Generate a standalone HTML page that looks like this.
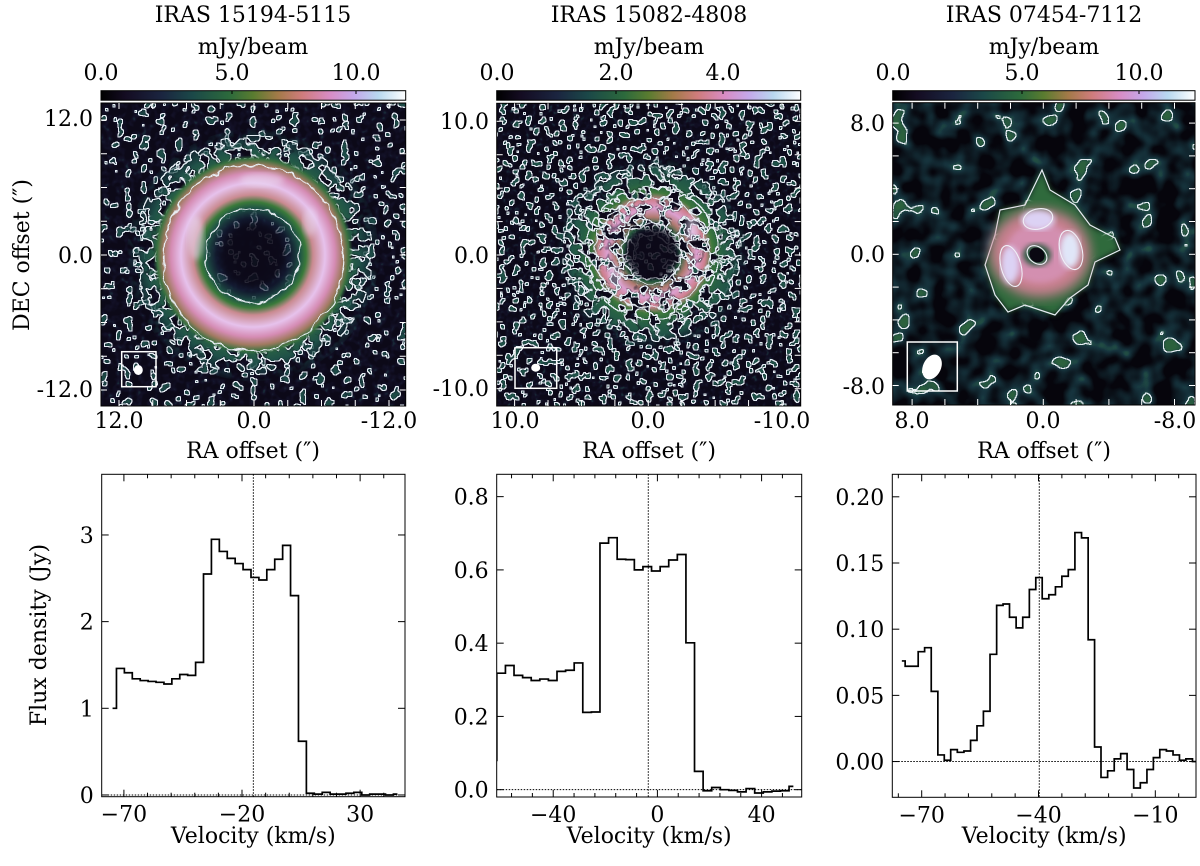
<!DOCTYPE html>
<html><head><meta charset="utf-8">
<style>
html,body{margin:0;padding:0;background:#fff;}
svg text{font-family:"DejaVu Serif","Liberation Serif",serif;fill:#000;}
filter{color-interpolation-filters:sRGB;}
</style></head>
<body>
<svg id="fig" width="1200" height="861" viewBox="0 0 1200 861" xmlns="http://www.w3.org/2000/svg">
<defs>
  <linearGradient id="cmap" x1="0" x2="1" y1="0" y2="0">
    <stop offset="0" stop-color="#000000"/><stop offset="0.08" stop-color="#140c22"/>
    <stop offset="0.2" stop-color="#1b2540"/><stop offset="0.3" stop-color="#1b4848"/>
    <stop offset="0.42" stop-color="#2c6a3c"/><stop offset="0.5" stop-color="#5a7c30"/>
    <stop offset="0.58" stop-color="#a37a48"/><stop offset="0.66" stop-color="#cf7c7c"/>
    <stop offset="0.75" stop-color="#d88cc4"/><stop offset="0.83" stop-color="#c4a8ea"/>
    <stop offset="0.91" stop-color="#b8d8f0"/><stop offset="1" stop-color="#ffffff"/>
  </linearGradient>
  <filter id="nzA" x="0" y="0" width="100%" height="100%" color-interpolation-filters="sRGB">
    <feTurbulence type="fractalNoise" baseFrequency="0.12" numOctaves="2" seed="4" result="t"/>
    <feColorMatrix in="t" type="matrix" values="0 0 0 0 0.11 0 0 0 0 0.29 0 0 0 0 0.27 6 0 0 0 -3.5" result="blob"/>
    <feComponentTransfer in="blob" result="mask"><feFuncA type="discrete" tableValues="0 1"/></feComponentTransfer>
    <feMorphology in="mask" operator="dilate" radius="1" result="dil"/>
    <feComposite in="dil" in2="mask" operator="out" result="edge"/>
    <feFlood flood-color="#e4ecf2"/><feComposite in2="edge" operator="in" result="wedge"/>
    <feColorMatrix in="t" type="matrix" values="0 0 0 0 0.12 0 0 0 0 0.12 0 0 0 0 0.26 2 0 0 0 -0.8" result="faint"/>
    <feMerge><feMergeNode in="faint"/><feMergeNode in="blob"/><feMergeNode in="wedge"/></feMerge>
  </filter>
  <filter id="nzB" x="0" y="0" width="100%" height="100%" color-interpolation-filters="sRGB">
    <feTurbulence type="fractalNoise" baseFrequency="0.15" numOctaves="2" seed="9" result="t"/>
    <feColorMatrix in="t" type="matrix" values="0 0 0 0 0.12 0 0 0 0 0.32 0 0 0 0 0.28 6 0 0 0 -3.35" result="blob"/>
    <feComponentTransfer in="blob" result="mask"><feFuncA type="discrete" tableValues="0 1"/></feComponentTransfer>
    <feMorphology in="mask" operator="dilate" radius="1" result="dil"/>
    <feComposite in="dil" in2="mask" operator="out" result="edge"/>
    <feFlood flood-color="#e4ecf2"/><feComposite in2="edge" operator="in" result="wedge"/>
    <feColorMatrix in="t" type="matrix" values="0 0 0 0 0.12 0 0 0 0 0.12 0 0 0 0 0.26 2 0 0 0 -0.8" result="faint"/>
    <feMerge><feMergeNode in="faint"/><feMergeNode in="blob"/><feMergeNode in="wedge"/></feMerge>
  </filter>
  <filter id="nzC" x="0" y="0" width="100%" height="100%" color-interpolation-filters="sRGB">
    <feTurbulence type="fractalNoise" baseFrequency="0.045" numOctaves="2" seed="5" result="t"/>
    <feColorMatrix in="t" type="matrix" values="0 0 0 0 0.17 0 0 0 0 0.38 0 0 0 0 0.24 7 0 0 0 -4.55" result="blob"/>
    <feComponentTransfer in="blob" result="mask"><feFuncA type="discrete" tableValues="0 1"/></feComponentTransfer>
    <feMorphology in="mask" operator="dilate" radius="1" result="dil"/>
    <feComposite in="dil" in2="mask" operator="out" result="edge"/>
    <feFlood flood-color="#e4ecf2"/><feComposite in2="edge" operator="in" result="wedge"/>
    <feColorMatrix in="t" type="matrix" values="0 0 0 0 0.10 0 0 0 0 0.24 0 0 0 0 0.28 3 0 0 0 -1.1" result="faint"/>
    <feMerge><feMergeNode in="faint"/><feMergeNode in="blob"/><feMergeNode in="wedge"/></feMerge>
  </filter>
  <filter id="halo" x="-10%" y="-10%" width="120%" height="120%" color-interpolation-filters="sRGB">
    <feTurbulence type="fractalNoise" baseFrequency="0.1" numOctaves="2" seed="7" result="t"/>
    <feColorMatrix in="t" type="matrix" values="0 0 0 0 0 0 0 0 0 0 0 0 0 0 0 6 0 0 0 -2.5" result="na"/>
    <feComposite in="SourceGraphic" in2="na" operator="in" result="hg"/>
    <feComponentTransfer in="hg" result="mask"><feFuncA type="discrete" tableValues="0 1"/></feComponentTransfer>
    <feMorphology in="mask" operator="dilate" radius="1" result="dil"/>
    <feComposite in="dil" in2="mask" operator="out" result="edge"/>
    <feFlood flood-color="#e4ecf2"/><feComposite in2="edge" operator="in" result="wedge"/>
    <feMerge><feMergeNode in="hg"/><feMergeNode in="wedge"/></feMerge>
  </filter>
  <filter id="wob" x="-20%" y="-20%" width="140%" height="140%" color-interpolation-filters="sRGB">
    <feTurbulence type="fractalNoise" baseFrequency="0.08" numOctaves="2" seed="3" result="t"/>
    <feDisplacementMap in="SourceGraphic" in2="t" scale="9" xChannelSelector="R" yChannelSelector="G"/>
  </filter>
  <filter id="soft" color-interpolation-filters="sRGB"><feGaussianBlur stdDeviation="3"/></filter>
  <filter id="soft2" color-interpolation-filters="sRGB"><feGaussianBlur stdDeviation="6"/></filter>
  <radialGradient id="ring1" cx="0.5" cy="0.5" r="0.5">
    <stop offset="0" stop-color="#100c1f" stop-opacity="0"/>
    <stop offset="0.36" stop-color="#15213a" stop-opacity="0.6"/>
    <stop offset="0.47" stop-color="#1f5446"/>
    <stop offset="0.53" stop-color="#3a7a3a"/>
    <stop offset="0.6" stop-color="#c98a90"/>
    <stop offset="0.72" stop-color="#e6c2ec"/>
    <stop offset="0.82" stop-color="#d58cb4"/>
    <stop offset="0.9" stop-color="#a07a60"/>
    <stop offset="0.96" stop-color="#3a7240"/>
    <stop offset="1" stop-color="#2a6040" stop-opacity="0"/>
  </radialGradient>
  <radialGradient id="halo1" cx="0.5" cy="0.5" r="0.5">
    <stop offset="0.6" stop-color="#2b6a44" stop-opacity="0"/>
    <stop offset="0.7" stop-color="#2d6c42"/>
    <stop offset="0.85" stop-color="#1f5048"/>
    <stop offset="1" stop-color="#1b4048" stop-opacity="0.2"/>
  </radialGradient>
  <radialGradient id="ring2" cx="0.5" cy="0.5" r="0.5">
    <stop offset="0" stop-color="#100c1f" stop-opacity="0"/>
    <stop offset="0.3" stop-color="#14203a" stop-opacity="0.6"/>
    <stop offset="0.4" stop-color="#2a6442"/>
    <stop offset="0.5" stop-color="#b07a70"/>
    <stop offset="0.62" stop-color="#dca0d0"/>
    <stop offset="0.74" stop-color="#cf8090"/>
    <stop offset="0.84" stop-color="#3f7a3c"/>
    <stop offset="1" stop-color="#2a6040" stop-opacity="0"/>
  </radialGradient>
  <radialGradient id="halo2" cx="0.5" cy="0.5" r="0.5">
    <stop offset="0.5" stop-color="#2b6a44" stop-opacity="0"/>
    <stop offset="0.62" stop-color="#2d6c42"/>
    <stop offset="0.85" stop-color="#215448"/>
    <stop offset="1" stop-color="#1b4048" stop-opacity="0"/>
  </radialGradient>
  <clipPath id="cm1"><rect x="101" y="103" width="304.7" height="303"/></clipPath>
  <clipPath id="cm2"><rect x="496.7" y="103.3" width="304" height="302.7"/></clipPath>
  <clipPath id="cm3"><rect x="892.7" y="102.7" width="302.3" height="302.3"/></clipPath>
</defs>

<!-- ===== MAP 1 ===== -->
<g>
  <text x="253" y="22" text-anchor="middle" font-size="22">IRAS 15194-5115</text>
  <text x="253" y="54" text-anchor="middle" font-size="22">mJy/beam</text>
  <rect x="101" y="90.7" width="304.7" height="9.5" fill="url(#cmap)" stroke="#000" stroke-width="1"/>
  <g font-size="22" text-anchor="middle">
    <text x="101" y="80">0.0</text><text x="232" y="80">5.0</text><text x="356" y="80">10.0</text>
    <line x1="232" y1="91" x2="232" y2="94" stroke="#000"/><line x1="356" y1="91" x2="356" y2="94" stroke="#000"/>
  </g>
  <g clip-path="url(#cm1)">
    <rect x="101" y="103" width="304.7" height="303" fill="#0c0918"/>
    <rect x="101" y="103" width="304.7" height="303" filter="url(#nzA)"/>
    <circle cx="253" cy="255" r="126" fill="url(#halo1)" filter="url(#halo)"/>
    <circle cx="253" cy="255" r="100" fill="url(#ring1)"/>
    <circle cx="253" cy="255" r="32" fill="#0c0918" opacity="0.85" filter="url(#soft)"/>
    <ellipse cx="196" cy="238" rx="8" ry="22" fill="#eadcf4" opacity="0.55" filter="url(#soft)"/>
    <ellipse cx="262" cy="180" rx="22" ry="7" fill="#eadcf4" opacity="0.5" filter="url(#soft)"/>
    <ellipse cx="310" cy="222" rx="7" ry="14" fill="#eadcf4" opacity="0.45" filter="url(#soft)"/>
    <g fill="none" stroke="#e8eef4" stroke-width="1.2" filter="url(#wob)">
      <circle cx="253" cy="255" r="47"/>
      <ellipse cx="253" cy="258" rx="90" ry="93"/>
    </g>
    <rect x="121.7" y="351.7" width="34.3" height="35" fill="none" stroke="#fff" stroke-width="1.5"/>
    <ellipse cx="138.3" cy="370" rx="4.5" ry="5" fill="#fff"/>
  </g>
  <rect x="101" y="103" width="304.7" height="303" fill="none" stroke="#000" stroke-width="1"/>
  <g id="m1ticks"></g>
  <g font-size="22">
    <text x="93" y="126" text-anchor="end">12.0</text><text x="93" y="263" text-anchor="end">0.0</text><text x="93" y="397" text-anchor="end">-12.0</text>
    <text x="119" y="428" text-anchor="middle">12.0</text><text x="254" y="428" text-anchor="middle">0.0</text><text x="389" y="428" text-anchor="middle">-12.0</text>
  </g>
  <text x="253" y="458" text-anchor="middle" font-size="22">RA offset (″)</text>
  <text transform="translate(29,255) rotate(-90)" text-anchor="middle" font-size="22">DEC offset (″)</text>
</g>

<!-- ===== MAP 2 ===== -->
<g>
  <text x="649" y="22" text-anchor="middle" font-size="22">IRAS 15082-4808</text>
  <text x="649" y="54" text-anchor="middle" font-size="22">mJy/beam</text>
  <rect x="496.7" y="90.7" width="304" height="9.5" fill="url(#cmap)" stroke="#000" stroke-width="1"/>
  <g font-size="22" text-anchor="middle">
    <text x="497" y="80">0.0</text><text x="616" y="80">2.0</text><text x="723" y="80">4.0</text>
    <line x1="616" y1="91" x2="616" y2="94" stroke="#000"/><line x1="723" y1="91" x2="723" y2="94" stroke="#000"/>
  </g>
  <g clip-path="url(#cm2)">
    <rect x="496.7" y="103.3" width="304" height="302.7" fill="#0c0918"/>
    <rect x="496.7" y="103.3" width="304" height="302.7" filter="url(#nzB)"/>
    <circle cx="652" cy="253" r="96" fill="url(#halo2)" filter="url(#halo)"/>
    <circle cx="652" cy="253" r="72" fill="url(#ring2)" filter="url(#halo)"/>
    <circle cx="652" cy="253" r="26" fill="#0c0918" opacity="0.85" filter="url(#soft)"/>
    <ellipse cx="692" cy="228" rx="6" ry="12" fill="#eadcf4" opacity="0.55" filter="url(#soft)"/>
    <ellipse cx="615" cy="275" rx="6" ry="12" fill="#eadcf4" opacity="0.45" filter="url(#soft)"/>
    <g fill="none" stroke="#e8eef4" stroke-width="1.1" filter="url(#wob)">
      <circle cx="652" cy="253" r="30"/>
      <ellipse cx="652" cy="253" rx="57" ry="55"/>
    </g>
    <rect x="515" y="347.7" width="41.7" height="40.6" fill="none" stroke="#fff" stroke-width="1.5"/>
    <ellipse cx="535.7" cy="367.7" rx="4.5" ry="4" fill="#fff"/>
  </g>
  <rect x="496.7" y="103.3" width="304" height="302.7" fill="none" stroke="#000" stroke-width="1"/>
  <g id="m2ticks"></g>
  <g font-size="22">
    <text x="489" y="129" text-anchor="end">10.0</text><text x="489" y="263" text-anchor="end">0.0</text><text x="489" y="396" text-anchor="end">-10.0</text>
    <text x="515" y="428" text-anchor="middle">10.0</text><text x="648" y="428" text-anchor="middle">0.0</text><text x="782" y="428" text-anchor="middle">-10.0</text>
  </g>
  <text x="649" y="458" text-anchor="middle" font-size="22">RA offset (″)</text>
</g>

<!-- ===== MAP 3 ===== -->
<g>
  <text x="1044" y="22" text-anchor="middle" font-size="22">IRAS 07454-7112</text>
  <text x="1044" y="54" text-anchor="middle" font-size="22">mJy/beam</text>
  <rect x="892.7" y="90.7" width="302.3" height="9.5" fill="url(#cmap)" stroke="#000" stroke-width="1"/>
  <g font-size="22" text-anchor="middle">
    <text x="893" y="80">0.0</text><text x="1022" y="80">5.0</text><text x="1139" y="80">10.0</text>
    <line x1="1022" y1="91" x2="1022" y2="94" stroke="#000"/><line x1="1139" y1="91" x2="1139" y2="94" stroke="#000"/>
  </g>
  <g clip-path="url(#cm3)">
    <rect x="892.7" y="102.7" width="302.3" height="302.3" fill="#06050c"/>
    <rect x="892.7" y="102.7" width="302.3" height="302.3" filter="url(#nzC)"/>
    <path d="M1042,170 L1050,190 L1075,205 L1090,225 L1115,238 L1120,250 L1095,262 L1088,285 L1070,298 L1055,315 L1025,305 L1008,312 L995,295 L985,265 L995,235 L1000,210 L1025,205 Z" fill="#2f6a3c" filter="url(#soft)"/>
    <path d="M1042,170 L1050,190 L1075,205 L1090,225 L1115,238 L1120,250 L1095,262 L1088,285 L1070,298 L1055,315 L1025,305 L1008,312 L995,295 L985,265 L995,235 L1000,210 L1025,205 Z" fill="none" stroke="#e8eef4" stroke-width="1.2"/>
    <ellipse cx="1040" cy="253" rx="50" ry="44" fill="#c98090" filter="url(#soft2)"/>
    <ellipse cx="1040" cy="253" rx="34" ry="30" fill="#d38fb0" filter="url(#soft)"/>
    <ellipse cx="1038" cy="220" rx="17" ry="10" fill="#dcd2f4" filter="url(#soft)"/>
    <ellipse cx="1070" cy="250" rx="10" ry="18" fill="#e0e6f8" filter="url(#soft)"/>
    <ellipse cx="1010" cy="265" rx="9" ry="19" fill="#dcd2f4" filter="url(#soft)"/>
    <ellipse cx="1037" cy="255" rx="14" ry="11" fill="#2a5a40" filter="url(#soft)"/>
    <ellipse cx="1037" cy="255" rx="8" ry="7" fill="#0a0812" transform="rotate(40 1037 255)"/>
    <g fill="none" stroke="#f0f0f8" stroke-width="1.1">
      <ellipse cx="1038" cy="219" rx="15" ry="10" transform="rotate(-15 1038 219)"/>
      <ellipse cx="1071" cy="250" rx="11" ry="20" transform="rotate(-15 1071 250)"/>
      <ellipse cx="1011" cy="266" rx="10" ry="21" transform="rotate(-15 1011 266)"/>
      <ellipse cx="1037" cy="255" rx="11" ry="8" transform="rotate(40 1037 255)"/>
    </g>
    <rect x="907.3" y="342" width="50" height="49" fill="none" stroke="#fff" stroke-width="1.5"/>
    <ellipse cx="932" cy="367" rx="9" ry="13" transform="rotate(25 932 367)" fill="#fff"/>
  </g>
  <rect x="892.7" y="102.7" width="302.3" height="302.3" fill="none" stroke="#000" stroke-width="1"/>
  <g id="m3ticks"></g>
  <g font-size="22">
    <text x="885" y="131" text-anchor="end">8.0</text><text x="885" y="262" text-anchor="end">0.0</text><text x="885" y="394" text-anchor="end">-8.0</text>
    <text x="912" y="428" text-anchor="middle">8.0</text><text x="1043" y="428" text-anchor="middle">0.0</text><text x="1175" y="428" text-anchor="middle">-8.0</text>
  </g>
  <text x="1044" y="458" text-anchor="middle" font-size="22">RA offset (″)</text>
</g>

<g id="spectra"></g>
</svg>

<script>
// ---------- Spectrum data ----------
const vel1 = [-74.8,-71.5,-68.1,-64.8,-61.4,-58.1,-54.7,-51.4,-48.0,-44.7,-41.3,-38.0,-34.6,-31.3,-27.9,-24.6,-21.2,-17.9,-14.5,-11.2,-7.8,-4.5,-1.1,2.2,5.6,8.9,12.3,15.6,19.0,22.3,25.7,29.0,32.4,35.7,39.1,42.4,45.8];
const flux1 = [1.0,1.46,1.41,1.34,1.32,1.31,1.30,1.28,1.34,1.39,1.38,1.53,2.55,2.95,2.81,2.73,2.67,2.60,2.51,2.48,2.60,2.72,2.88,2.30,0.62,0.02,0.01,0.03,0.01,0.01,0.02,0.03,0.00,0.01,0.01,0.00,0.01];
const vel2 = [-63.3,-60.0,-56.7,-53.4,-50.1,-46.8,-43.5,-40.2,-36.9,-33.6,-30.3,-27.0,-23.7,-20.4,-17.1,-13.8,-10.5,-7.2,-3.9,-0.6,2.7,6.0,9.3,12.6,15.9,19.2,22.5,25.8,29.1,32.4,35.7,39.0,42.3,45.6,48.9,52.2];
const flux2 = [0.08,0.318,0.339,0.312,0.306,0.298,0.302,0.298,0.323,0.326,0.346,0.211,0.212,0.673,0.688,0.629,0.628,0.600,0.609,0.597,0.609,0.627,0.642,0.401,0.05,-0.003,0.006,0.0,-0.002,-0.006,0.003,-0.009,-0.006,-0.004,-0.003,0.009];
const vel3 = [-75.1,-73.4,-71.7,-70.1,-68.4,-66.7,-65.0,-63.4,-61.7,-60.0,-58.3,-56.6,-55.0,-53.3,-51.6,-49.9,-48.3,-46.6,-44.9,-43.2,-41.5,-39.9,-38.2,-36.5,-34.8,-33.2,-31.5,-29.8,-28.1,-26.4,-24.8,-23.1,-21.4,-19.7,-18.1,-16.4,-14.7,-13.0,-11.3,-9.7,-8.0,-6.3,-4.6,-3.0,-1.3,0.4];
const flux3 = [0.076,0.072,0.072,0.083,0.086,0.053,0.005,0.001,0.009,0.007,0.008,0.016,0.027,0.038,0.081,0.118,0.119,0.109,0.101,0.109,0.130,0.139,0.123,0.126,0.132,0.140,0.145,0.173,0.169,0.092,0.011,-0.012,-0.007,0.002,0.006,-0.006,-0.020,-0.016,-0.006,0.003,0.009,0.008,0.005,0.001,0.002,0.000];
const vsys = [-15.2, -3.5, -39.8];
const xTicks1 = [-70,-20,30], xTicks2 = [-40,0,40], xTicks3 = [-70,-40,-10];
const yTicks1 = [0,1,2,3], yTicks2 = [0,0.2,0.4,0.6,0.8], yTicks3 = [0,0.05,0.10,0.15,0.20];
const yLabels1 = ["0","1","2","3"], yLabels2 = ["0.0","0.2","0.4","0.6","0.8"], yLabels3 = ["0.00","0.05","0.10","0.15","0.20"];
const xLabels1 = ["\u221270","\u221220","30"], xLabels2 = ["\u221240","0","40"], xLabels3 = ["\u221270","\u221240","\u221210"];

const NS = "http://www.w3.org/2000/svg";
function mk(tag, attrs, parent){ const e=document.createElementNS(NS,tag); for(const k in attrs) e.setAttribute(k,attrs[k]); if(parent) parent.appendChild(e); return e; }

const panels = [
 {L:101.7,R:405,T:474.3,B:796.7,xd:[-79.4,49.0],yd:[-0.02,3.70],vel:vel1,flux:flux1,xt:xTicks1,xl:xLabels1,yt:yTicks1,yl:yLabels1,minor:10,vs:vsys[0]},
 {L:496.7,R:801.7,T:474.3,B:797,xd:[-61.7,55.4],yd:[-0.02,0.861],vel:vel2,flux:flux2,xt:xTicks2,xl:xLabels2,yt:yTicks2,yl:yLabels2,minor:8,vs:vsys[1]},
 {L:892.3,R:1196,T:474.3,B:797.3,xd:[-77.55,0.45],yd:[-0.027,0.217],vel:vel3,flux:flux3,xt:xTicks3,xl:xLabels3,yt:yTicks3,yl:yLabels3,minor:6,vs:vsys[2]}
];
const root = document.getElementById('spectra');
panels.forEach((p,i)=>{
  const sx = v => p.L + (v-p.xd[0])/(p.xd[1]-p.xd[0])*(p.R-p.L);
  const sy = v => p.B - (v-p.yd[0])/(p.yd[1]-p.yd[0])*(p.B-p.T);
  const g = mk('g',{},root);
  
  
  const cp = mk('clipPath',{id:'cs'+i},g); mk('rect',{x:p.L,y:p.T,width:p.R-p.L,height:p.B-p.T},cp);
  const zl = mk('line',{x1:p.L,x2:p.R,y1:sy(0),y2:sy(0),stroke:'#000','stroke-width':1,'stroke-dasharray':'1.5,1.5'},g);
  
  
  const vl = mk('line',{x1:sx(p.vs),x2:sx(p.vs),y1:p.T,y2:p.B,stroke:'#000','stroke-width':1,'stroke-dasharray':'1.5,1.5'},g);
  
  
  let d = 'M'+sx(p.vel[0]).toFixed(2)+','+sy(p.flux[0]).toFixed(2);
  for(let k=1;k<p.vel.length;k++){
    const m = sx((p.vel[k-1]+p.vel[k])/2);
    d += ' H'+m.toFixed(2)+' V'+sy(p.flux[k]).toFixed(2);
  }
  d += ' H'+sx(p.vel[p.vel.length-1]).toFixed(2);
  const path = mk('path',{d:d,fill:'none',stroke:'#000','stroke-width':1.7,'clip-path':'url(#cs'+i+')'},g);
  
  
  const fr = mk('rect',{x:p.L,y:p.T,width:p.R-p.L,height:p.B-p.T,fill:'none',stroke:'#000','stroke-width':1},g);
  
  
  for(let v=p.xt[0]-Math.floor((p.xt[0]-p.xd[0])/p.minor)*p.minor; v<=p.xd[1]; v+=p.minor){
    const major = p.xt.some(t=>Math.abs(t-v)<1e-6);
    const len = major?7:4;
    mk('line',{x1:sx(v),x2:sx(v),y1:p.B,y2:p.B-len,stroke:'#000','stroke-width':1},g);
    mk('line',{x1:sx(v),x2:sx(v),y1:p.T,y2:p.T+len,stroke:'#000','stroke-width':1},g);
  }
  p.xt.forEach((v,k)=>{
    const t = mk('text',{x:sx(v),y:p.B+25,'text-anchor':'middle','font-size':22},g);
    t.textContent = p.xl[k];
    
    
  });
  p.yt.forEach((v,k)=>{
    mk('line',{x1:p.L,x2:p.L+7,y1:sy(v),y2:sy(v),stroke:'#000','stroke-width':1},g);
    mk('line',{x1:p.R,x2:p.R-7,y1:sy(v),y2:sy(v),stroke:'#000','stroke-width':1},g);
    const t = mk('text',{x:p.L-8,y:sy(v)+8,'text-anchor':'end','font-size':22},g);
    t.textContent = p.yl[k];
    
    
  });
  const xt = mk('text',{x:(p.L+p.R)/2,y:843,'text-anchor':'middle','font-size':22},g);
  xt.textContent = 'Velocity (km/s)';
  
  
});
const yt = mk('text',{transform:'translate(46,635) rotate(-90)','text-anchor':'middle','font-size':22},root);
yt.textContent = 'Flux density (Jy)';



function mapTicks(id,L,R,T,B,cx,cy,scale,step){
  const g=document.getElementById(id);
  for(let k=-10;k<=10;k++){
    const x=cx-k*step*scale, y=cy-k*step*scale;
    if(x>L+1&&x<R-1){ mk('line',{x1:x,x2:x,y1:B,y2:B-6,stroke:'#fff','stroke-width':1},g); mk('line',{x1:x,x2:x,y1:T,y2:T+6,stroke:'#fff','stroke-width':1},g);}
    if(y>T+1&&y<B-1){ mk('line',{x1:L,x2:L+6,y1:y,y2:y,stroke:'#fff','stroke-width':1},g); mk('line',{x1:R,x2:R-6,y1:y,y2:y,stroke:'#fff','stroke-width':1},g);}
  }
}
mapTicks('m1ticks',101,405.7,103,406,254,255,11.25,3);
mapTicks('m2ticks',496.7,800.7,103.3,406,648.3,255,13.37,2.5);
mapTicks('m3ticks',892.7,1195,102.7,405,1043.3,254.3,16.4,2);
</script>
</body></html>
